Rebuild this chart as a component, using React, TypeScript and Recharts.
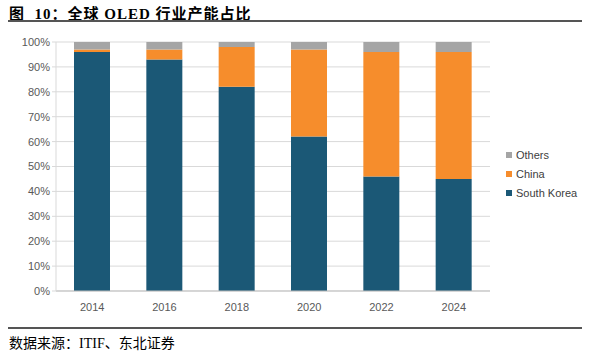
import { BarChart, Bar, XAxis, YAxis, CartesianGrid } from "recharts";

const years = ["2014", "2016", "2018", "2020", "2022", "2024"];
const southKorea = [96, 93, 82, 62, 46, 45];
const china = [1, 4, 16, 35, 50, 51];
const others = [3, 3, 2, 3, 4, 4];
const yTicks = [0, 10, 20, 30, 40, 50, 60, 70, 80, 90, 100];
const boundaryTicks = [0, 1, 2, 3, 4, 5, 6];

const data = years.map((year, i) => ({
  year,
  southKorea: southKorea[i],
  china: china[i],
  others: others[i],
}));

const legendItems = [
  { name: "Others", color: "#a5a5a5" },
  { name: "China", color: "#f68d2c" },
  { name: "South Korea", color: "#1b5876" },
];

const tickStyle = { fontSize: 11, fill: "#595959", fontFamily: "'Liberation Sans', Arial, sans-serif" };

export default function App() {
  return (
    <div style={{ position: "absolute", left: 0, top: 0, width: 590, height: 353, background: "#fff" }}>
      <div
        style={{
          position: "absolute",
          left: 9,
          top: 2,
          fontSize: 15,
          fontWeight: "bold",
          fontFamily: "'Liberation Serif', 'Noto Sans CJK SC', serif",
          color: "#000",
          letterSpacing: 1,
        }}
      >
        图&nbsp; 10：全球 OLED 行业产能占比
      </div>
      <div style={{ position: "absolute", left: 8, top: 20, width: 574, height: 2, background: "#555" }} />

      <div style={{ position: "absolute", left: 0, top: 0 }}>
        <BarChart
          width={590}
          height={330}
          data={data}
          margin={{ top: 42, right: 100, left: 6, bottom: 9 }}
        >
          <CartesianGrid vertical={false} stroke="#d9d9d9" />
          <XAxis
            xAxisId="edges"
            type="number"
            domain={[0, 6]}
            ticks={boundaryTicks}
            tick={false}
            axisLine={false}
            tickLine={{ stroke: "#d9d9d9" }}
            tickSize={4}
            height={0}
          />
          <XAxis
            dataKey="year"
            tick={tickStyle}
            axisLine={{ stroke: "#bfbfbf" }}
            tickLine={false}
            tickMargin={6}
            height={30}
          />
          <YAxis
            domain={[0, 100]}
            ticks={yTicks}
            tickFormatter={(v) => `${v}%`}
            tick={tickStyle}
            axisLine={{ stroke: "#d9d9d9" }}
            tickLine={{ stroke: "#d9d9d9" }}
            tickSize={4}
            width={50}
          />
          <Bar dataKey="southKorea" stackId="a" fill="#1b5876" barSize={36} isAnimationActive={false} />
          <Bar dataKey="china" stackId="a" fill="#f68d2c" barSize={36} isAnimationActive={false} />
          <Bar dataKey="others" stackId="a" fill="#a5a5a5" barSize={36} isAnimationActive={false} />
        </BarChart>
      </div>

      <div
        style={{
          position: "absolute",
          left: 506,
          top: 145,
          fontFamily: "'Liberation Sans', Arial, sans-serif",
          fontSize: 11,
          color: "#404040",
        }}
      >
        {legendItems.map((it) => (
          <div key={it.name} style={{ display: "flex", alignItems: "center", height: 19 }}>
            <span style={{ width: 6, height: 6, background: it.color, marginRight: 4, display: "inline-block" }} />
            {it.name}
          </div>
        ))}
      </div>

      <div style={{ position: "absolute", left: 8, top: 327, width: 574, height: 2, background: "#555" }} />
      <div
        style={{
          position: "absolute",
          left: 9,
          top: 332,
          fontSize: 14,
          fontFamily: "'Liberation Serif', 'Noto Sans CJK SC', serif",
          color: "#000",
        }}
      >
        数据来源：ITIF、东北证券
      </div>
    </div>
  );
}
